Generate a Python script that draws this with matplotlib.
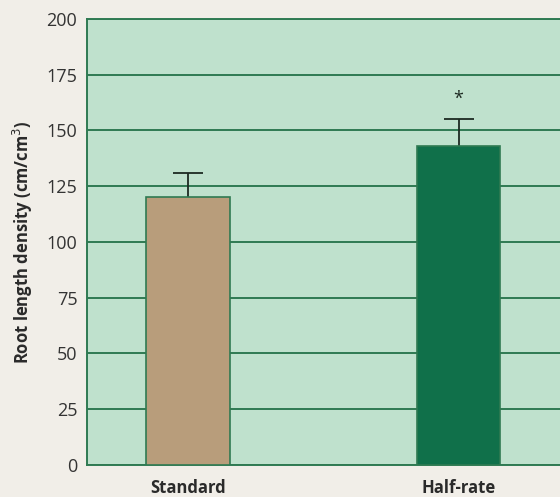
import matplotlib
matplotlib.use("Agg")
import matplotlib.pyplot as plt

# Root length density by fertiliser treatment
categories = ["Standard", "Half-rate"]
means = [120, 143]
errors = [11, 12]
significant = [False, True]
yticks = [0, 25, 50, 75, 100, 125, 150, 175, 200]

plt.rcParams["font.family"] = ["Open Sans", "DejaVu Sans"]

paper = "#f1eee8"
mint = "#bfe1cd"
line_green = "#2f7a52"
bar_colors = ["#b89d7b", "#10704a"]

fig = plt.figure(figsize=(5.6, 4.97), dpi=100, facecolor=paper)
ax = fig.add_axes([0.1554, 0.0644, 0.8446, 0.8974])
ax.set_facecolor(mint)

x = list(range(len(categories)))
ax.bar(x, means, width=0.31, color=bar_colors, edgecolor=line_green,
       linewidth=1.2, zorder=3)
# symmetric bars drawn beneath the columns so only the upper half shows
ax.errorbar(x, means, yerr=errors, fmt="none", ecolor="#1d2a22",
            elinewidth=1.3, capsize=11, capthick=1.3, zorder=2)
for xi, m, e, s in zip(x, means, errors, significant):
    if s:
        ax.text(xi, m + e + 9, "*", ha="center", va="center", fontsize=13,
                color="#1d2a22", zorder=5)

ax.set_ylim(0, 200)
ax.set_xlim(-0.373, 1.375)
ax.set_yticks(yticks)
ax.set_yticklabels([str(t) for t in yticks], fontsize=13, color="#333333")
ax.set_xticks(x)
ax.set_xticklabels(categories, fontsize=12, fontweight="bold", color="#2a2a2a")
ax.tick_params(axis="y", length=0, pad=7)
ax.tick_params(axis="x", length=0, pad=10)
ax.yaxis.grid(True, color=line_green, linewidth=1.4, zorder=1)
ax.set_axisbelow(True)
for side in ["left", "bottom", "top"]:
    ax.spines[side].set_color(line_green)
    ax.spines[side].set_linewidth(1.4)
ax.spines["right"].set_visible(False)
ax.set_ylabel("Root length density (cm/cm$^3$)", fontsize=12, fontweight="bold",
              color="#2a2a2a", labelpad=8)

fig.savefig("out.png", dpi=100, facecolor=paper)
